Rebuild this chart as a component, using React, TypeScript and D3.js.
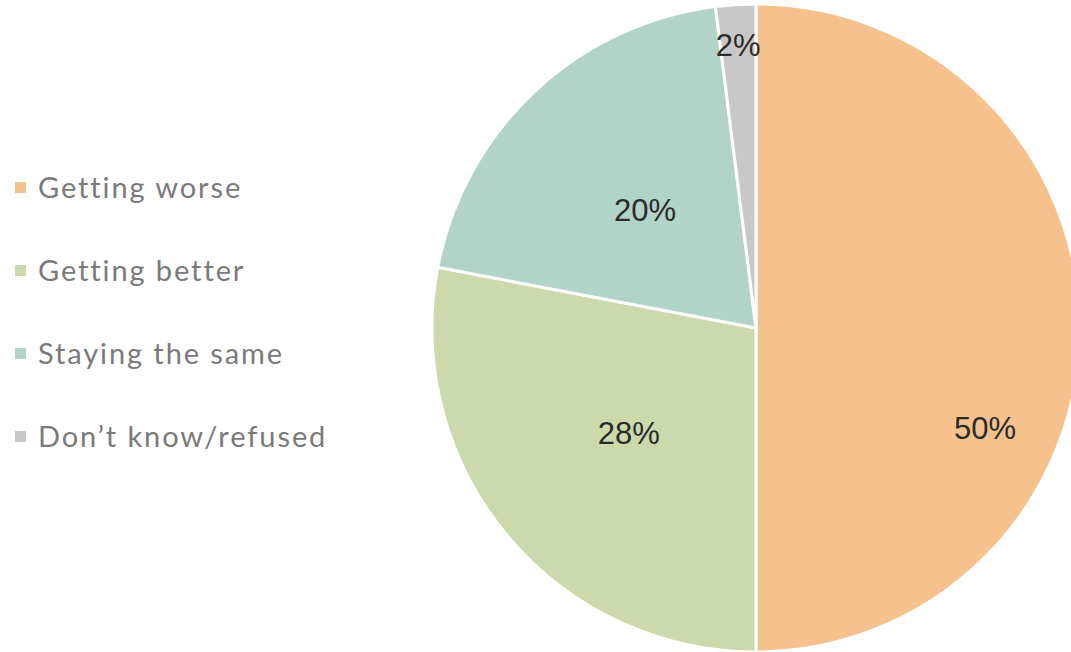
import React from "react";
import * as d3 from "d3";

const categories = ["Getting worse", "Getting better", "Staying the same", "Don\u2019t know/refused"];
const values = [50, 28, 20, 2];
const colors = ["#F5C28E", "#CCD9AD", "#B2D3C8", "#C8C8C8"];
// label placement: fraction of radius along slice mid-angle, plus nudges
const labelRadius = [0.5, 0.51, 0.5, 0.875];
const labelNudgeX = [67, 0, 0, 0];
const labelNudgeY = [100, 0, 0, 0];

export default function App() {
  const W = 1071, H = 652;
  const cx = 756, cy = 328, r = 324;
  const pie = d3.pie<number>().sort(null).value((d) => d)(values);
  const arc = d3.arc<d3.PieArcDatum<number>>().innerRadius(0).outerRadius(r);
  const legendY = d3.scalePoint<string>().domain(categories).range([188, 437]);
  return (
    <svg width={W} height={H} style={{ position: "absolute", left: 0, top: 0 }}>
      <g transform={`translate(${cx},${cy})`}>
        {pie.map((p, i) => (
          <path key={i} d={arc(p) || ""} fill={colors[i]} stroke="#fff" strokeWidth={3} strokeLinejoin="round" />
        ))}
        {pie.map((p, i) => {
          const a = (p.startAngle + p.endAngle) / 2;
          const rr = r * labelRadius[i];
          const x = Math.sin(a) * rr + labelNudgeX[i];
          const y = -Math.cos(a) * rr + labelNudgeY[i];
          return (
            <text key={i} x={x} y={y} dy="0.36em" textAnchor="middle" fontFamily="Liberation Sans, Arial, sans-serif" fontSize={31} fill="#2b2b2b">
              {`${values[i]}%`}
            </text>
          );
        })}
      </g>
      {categories.map((c, i) => (
        <g key={c} transform={`translate(0,${legendY(c)})`}>
          <rect x={15} y={-6} width={11} height={11} fill={colors[i]} />
          <text x={38} y={0} dy="0.36em" fontFamily="Lato, 'Noto Sans', sans-serif" fontSize={29} fill="#7a7a7a" letterSpacing={1.9}>
            {c}
          </text>
        </g>
      ))}
    </svg>
  );
}
